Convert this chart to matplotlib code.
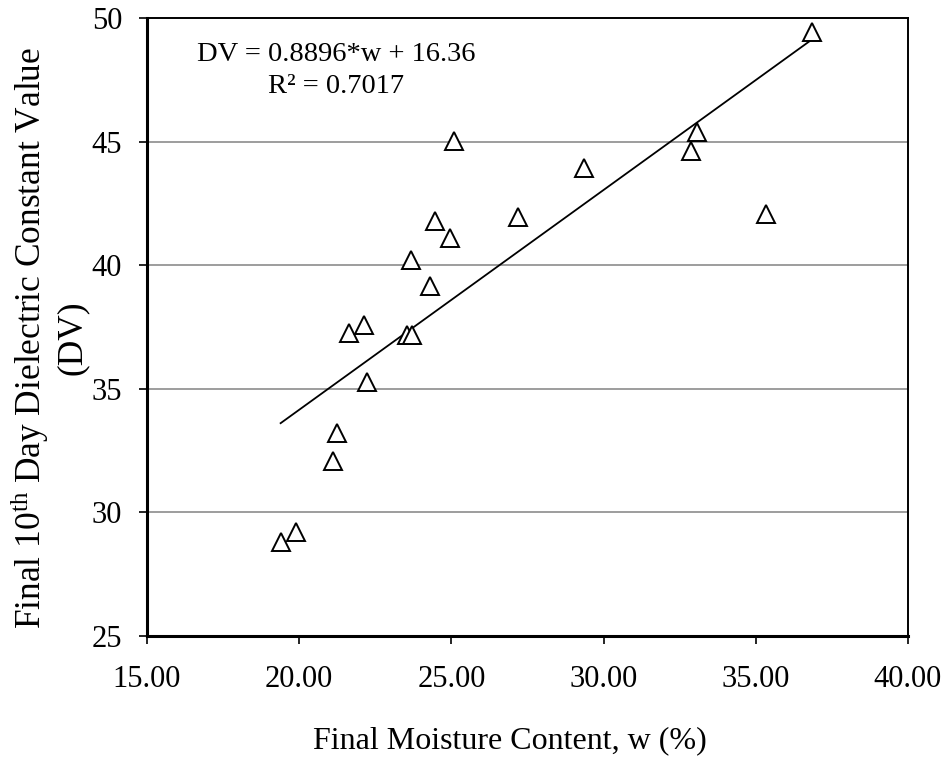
import matplotlib
matplotlib.use("Agg")
import matplotlib.pyplot as plt
import numpy as np

plt.rcParams['font.family'] = ['Liberation Serif', 'DejaVu Serif']
plt.rcParams['mathtext.fontset'] = 'custom'
plt.rcParams['mathtext.rm'] = 'Liberation Serif'
plt.rcParams['mathtext.it'] = 'Liberation Serif:italic'

moisture = [19.39, 19.88, 21.10, 21.23, 21.62, 22.12, 22.24, 23.53, 23.71, 23.66,
            24.30, 24.46, 24.96, 25.09, 27.19, 29.37, 32.86, 33.06, 35.34, 36.84]
dv = [28.81, 29.22, 32.09, 33.20, 37.27, 37.58, 35.29, 37.18, 37.18, 40.21,
      39.16, 41.79, 41.09, 45.04, 41.94, 43.93, 44.64, 45.38, 42.08, 49.45]
slope, intercept = 0.8896, 16.36
x_ticks = [15, 20, 25, 30, 35, 40]
y_ticks = [25, 30, 35, 40, 45, 50]

fig = plt.figure(figsize=(9.46, 7.61), dpi=100)
ax = fig.add_axes([0.1554, 0.1644, 0.8044, 0.8117])

ax.set_xlim(15, 40)
ax.set_ylim(25, 50)
for yv in [30, 35, 40, 45]:
    ax.axhline(yv, color='#8c8c8c', lw=1.2, zorder=0)

xs = np.array([min(moisture), max(moisture)])
ax.plot(xs, slope * xs + intercept, color='black', lw=1.3, zorder=2)
ax.plot(moisture, dv, linestyle='none', marker='^', ms=13, mfc='white',
        mec='black', mew=1.4, zorder=3)

ax.set_xticks(x_ticks)
ax.set_xticklabels([f"{v:.2f}" for v in x_ticks])
ax.set_yticks(y_ticks)
ax.tick_params(axis='both', labelsize=22, direction='out', length=6, width=1.2, colors='black')
ax.tick_params(axis='x', pad=15)
ax.tick_params(axis='y', pad=12)

for s in ['left', 'bottom']:
    ax.spines[s].set_linewidth(2.2)
for s in ['top', 'right']:
    ax.spines[s].set_linewidth(1.4)

ax.set_xlabel('Final Moisture Content, w (%)', fontsize=23, va='center', ha='center')
ax.xaxis.set_label_coords(0.477, -0.17)
ax.set_ylabel('Final 10$^{\\mathrm{th}}$ Day Dielectric Constant Value\n(DV)', fontsize=25.5,
              linespacing=1.2, va='center', ha='center')
ax.yaxis.set_label_coords(-0.129, 0.482)

ax.text(21.21, 48.52, 'DV = 0.8896*w + 16.36', fontsize=20.5, ha='center', va='center')
ax.text(21.21, 47.23, 'R² = 0.7017', fontsize=20.5, ha='center', va='center')

fig.savefig('out.png', dpi=100)
